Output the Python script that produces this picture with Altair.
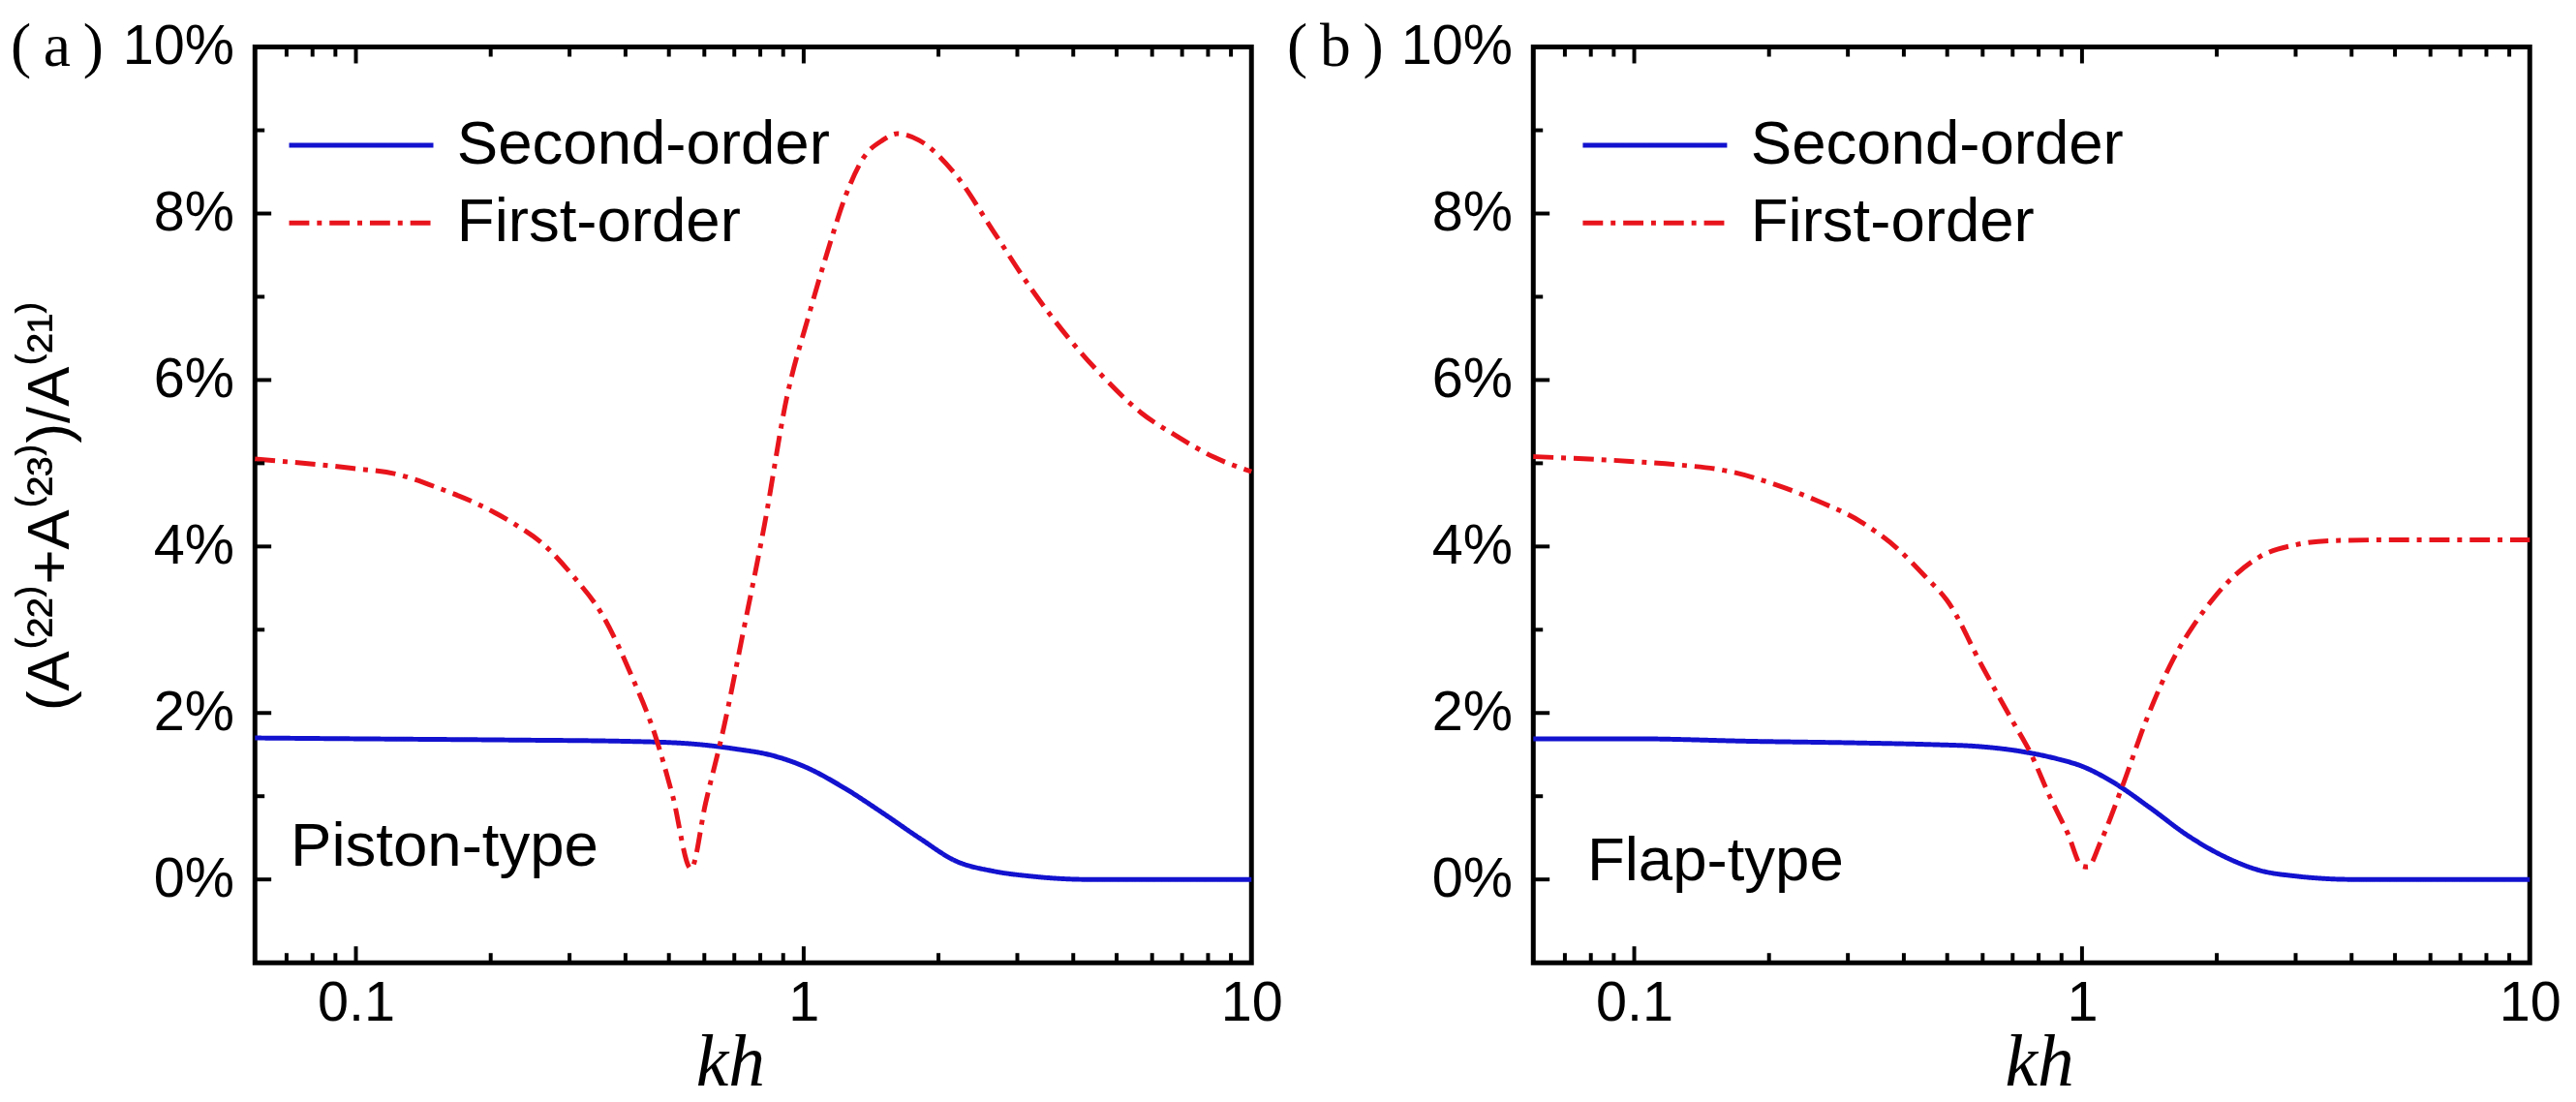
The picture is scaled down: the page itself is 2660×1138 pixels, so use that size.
import altair as alt
import pandas as pd

series_names = ["Second-order", "First-order"]

# ---- panel (a) Piston-type ----
a_second_kh = [0.0595, 0.1, 0.226, 0.40, 0.56, 0.70, 0.85, 1.0, 1.24, 1.5, 1.81, 2.19, 2.65, 3.2, 4.3, 6.0, 10]
a_second_val = [1.70, 1.69, 1.675, 1.66, 1.63, 1.57, 1.49, 1.36, 1.09, 0.80, 0.50, 0.22, 0.10, 0.04, 0.0, 0.0, 0.0]
a_first_kh = [0.0595, 0.098, 0.123, 0.155, 0.187, 0.226, 0.263, 0.306, 0.355, 0.414, 0.464, 0.51, 0.56,
              0.604, 0.664, 0.73, 0.818, 0.916, 1.027, 1.13, 1.24, 1.36, 1.5, 1.62, 1.81, 2.19, 2.65,
              3.2, 3.87, 4.68, 5.66, 6.84, 8.27, 10]
a_first_val = [5.05, 4.94, 4.87, 4.69, 4.51, 4.27, 4.02, 3.64, 3.18, 2.43, 1.76, 1.0, 0.13,
               0.92, 1.84, 2.93, 4.27, 5.78, 6.78, 7.54, 8.21, 8.67, 8.88, 8.96, 8.88, 8.46, 7.79,
               7.12, 6.53, 6.03, 5.61, 5.32, 5.07, 4.9]

# ---- panel (b) Flap-type ----
b_second_kh = [0.0595, 0.1, 0.183, 0.32, 0.466, 0.58, 0.728, 0.878, 1.0, 1.18, 1.42, 1.72, 2.07, 2.49, 3.0, 4.05, 6.0, 10]
b_second_val = [1.69, 1.69, 1.66, 1.64, 1.62, 1.60, 1.54, 1.45, 1.36, 1.16, 0.86, 0.53, 0.28, 0.11, 0.04, 0.0, 0.0, 0.0]
b_first_kh = [0.0595, 0.1, 0.126, 0.164, 0.205, 0.256, 0.32, 0.386, 0.45, 0.5, 0.6, 0.7, 0.764, 0.85,
              0.93, 1.0, 1.03, 1.1, 1.223, 1.4, 1.6, 1.8, 2.09, 2.5, 3.0, 3.6, 5.0, 10]
b_first_val = [5.08, 5.02, 4.98, 4.90, 4.75, 4.55, 4.30, 3.98, 3.62, 3.35, 2.55, 1.90, 1.54, 0.98,
               0.55, 0.16, 0.15, 0.45, 1.08, 1.95, 2.65, 3.10, 3.54, 3.88, 4.02, 4.07, 4.08, 4.08]

x_major = [0.1, 1]
x_minor = [0.07, 0.08, 0.09, 0.2, 0.3, 0.4, 0.5, 0.6, 0.7, 0.8, 0.9, 2, 3, 4, 5, 6, 7, 8, 9]
x_labels = [0.1, 1, 10]
y_major = [0, 2, 4, 6, 8]
y_minor = [1, 3, 5, 7, 9]
y_labels = [0, 2, 4, 6, 8, 10]

BLUE = "#1212cf"
RED = "#e8141c"
SANS = "Liberation Sans, Arial, sans-serif"
SERIF = "Liberation Serif, Times New Roman, serif"
W, H = 1036, 952
XDOM = [0.0595, 10]
YDOM = [-1, 10]
MAJ, MIN = 17, 10
YTITLE = "(A\u207d\u00b2\u00b2\u207e+A\u207d\u00b2\u00b3\u207e)/A\u207d\u00b2\u00b9\u207e"


def panel(sx, sy, fx, fy, tag, tag_x, kind, kind_x, kind_y, ytitle, legend_x, kh_x):
    df = pd.concat([
        pd.DataFrame({"kh": sx, "val": sy, "series": series_names[0]}),
        pd.DataFrame({"kh": fx, "val": fy, "series": series_names[1]}),
    ])
    xs = alt.Scale(type="log", domain=XDOM, nice=False)
    ys = alt.Scale(domain=YDOM, nice=False, zero=False)
    leg = alt.Legend(orient="none", legendX=legend_x, legendY=70, title=None, symbolType="stroke",
                     symbolSize=22500, symbolStrokeWidth=5, labelFont=SANS, labelFontSize=64,
                     labelColor="black", labelOffset=22, rowPadding=17, padding=0, labelLimit=0,
                     clipHeight=64)
    yaxis_kwargs = dict(values=y_labels, labelExpr="datum.value + '%'", ticks=False, tickSize=0,
                        domain=False, grid=False, labelFont=SANS, labelFontSize=58, labelColor="black",
                        labelPadding=22, labelFlush=False, labelOverlap=False)
    if ytitle:
        yaxis = alt.Axis(title=ytitle, titleFont=SANS, titleFontSize=62, titleFontWeight="normal",
                         titleColor="black", titleX=-213, titleY=H / 2, titleAngle=270,
                         titleAlign="center", titleBaseline="middle", **yaxis_kwargs)
    else:
        yaxis = alt.Axis(title=None, **yaxis_kwargs)
    xaxis = alt.Axis(
        values=x_labels, format="~g", ticks=False, tickSize=0, domain=False, grid=False,
        labelFont=SANS, labelFontSize=58, labelColor="black", labelPadding=14, labelFlush=False,
        labelOverlap=False, title="kh", titleFont=SERIF, titleFontStyle="italic",
        titleFontWeight="normal", titleFontSize=76, titleColor="black", titleX=kh_x, titleY=127,
        titleAlign="center", titleBaseline="alphabetic")

    lines = alt.Chart(df).mark_line(strokeWidth=5, interpolate="monotone").encode(
        x=alt.X("kh:Q", scale=xs, axis=xaxis),
        y=alt.Y("val:Q", scale=ys, axis=yaxis),
        color=alt.Color("series:N", scale=alt.Scale(domain=series_names, range=[BLUE, RED]), legend=leg),
        strokeDash=alt.StrokeDash("series:N", scale=alt.Scale(domain=series_names, range=[[1, 0], [21, 8, 5, 8]]),
                                  legend=leg),
    )

    def xticks(vals, y0, y1):
        return alt.Chart(pd.DataFrame({"kh": vals})).mark_rule(strokeWidth=4, color="black").encode(
            x=alt.X("kh:Q", scale=xs, axis=xaxis), y=alt.value(y0), y2=alt.value(y1))

    def yticks(vals, length):
        return alt.Chart(pd.DataFrame({"val": vals})).mark_rule(strokeWidth=4, color="black").encode(
            y=alt.Y("val:Q", scale=ys, axis=yaxis), x=alt.value(0), x2=alt.value(length))

    ticks = [
        xticks(x_major, H, H - MAJ), xticks(x_minor, H, H - MIN),
        xticks(x_major, 0, MAJ), xticks(x_minor, 0, MIN),
        yticks(y_major, MAJ), yticks(y_minor, MIN),
    ]
    kind_text = alt.Chart(pd.DataFrame({"t": [kind]})).mark_text(
        font=SANS, fontSize=64, align="left", baseline="alphabetic", color="black").encode(
        text="t:N", x=alt.value(kind_x), y=alt.value(kind_y))
    tag_text = alt.Chart(pd.DataFrame({"t": [tag]})).mark_text(
        font=SERIF, fontSize=64, align="left", baseline="alphabetic", color="black").encode(
        text="t:N", x=alt.value(tag_x), y=alt.value(20))
    return alt.layer(lines, *ticks, kind_text, tag_text).properties(width=W, height=H)


pa = panel(a_second_kh, a_second_val, a_first_kh, a_first_val, "(\u2009a\u2009)", -254,
           "Piston-type", 37, 851, YTITLE, 33, 494)
pb = panel(b_second_kh, b_second_val, b_first_kh, b_first_val, "(\u2009b\u2009)", -256,
           "Flap-type", 56, 866, None, 49, 526)

chart = alt.hconcat(pa, pb, spacing=293, bounds="flush").resolve_scale(
    color="independent", strokeDash="independent"
).configure_view(stroke="black", strokeWidth=5).properties(
    padding={"left": 0, "top": 3, "right": 5, "bottom": 0}, background="white")

chart.save("out.html", embed_options={"renderer": "svg", "actions": False})
